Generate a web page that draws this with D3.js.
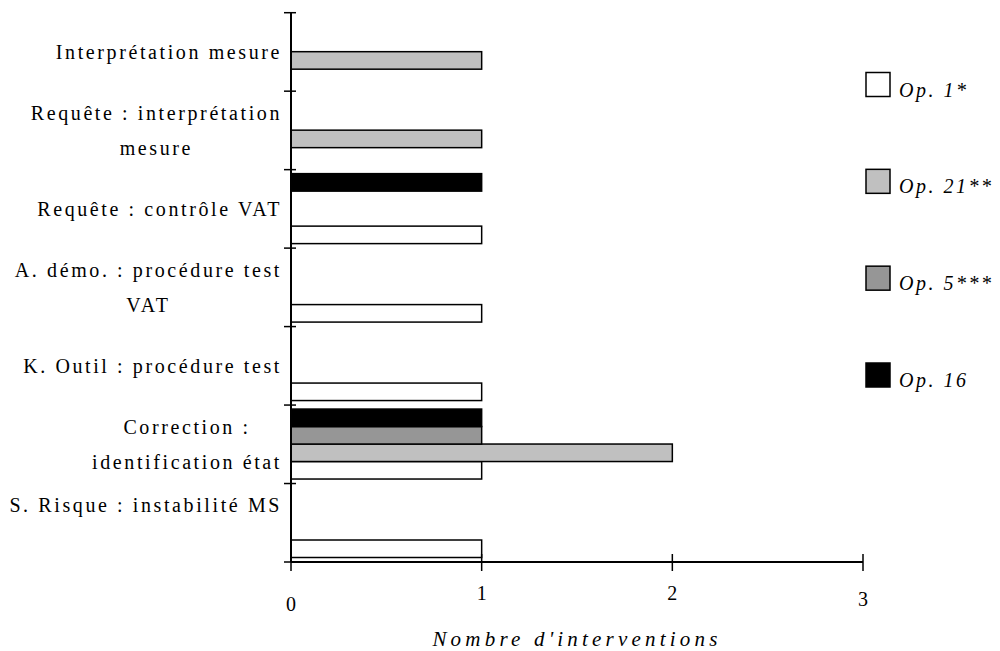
<!DOCTYPE html>
<html>
<head>
<meta charset="utf-8">
<script src="https://cdn.jsdelivr.net/npm/d3@7"></script>
<style>
  html, body { margin: 0; padding: 0; background: #fff; }
  svg { display: block; }
</style>
</head>
<body>
<svg id="chart" width="1000" height="651"></svg>
<script>
// ---- data ----
const categories = [
  "Interprétation mesure",
  "Requête : interprétation\nmesure",
  "Requête : contrôle VAT",
  "A. démo. : procédure test\nVAT",
  "K. Outil : procédure test",
  "Correction :\nidentification état",
  "S. Risque : instabilité MS\n"
];
const seriesNames = ["Op. 1*", "Op. 21**", "Op. 5***", "Op. 16"];
const op1Values  = [0, 0, 1, 1, 1, 1, 1];
const op21Values = [1, 1, 0, 0, 0, 2, 0];
const op5Values  = [0, 0, 0, 0, 0, 1, 0];
const op16Values = [0, 0, 1, 0, 0, 1, 0];
const xTickValues = [0, 1, 2, 3];
const axisTitle = "Nombre d'interventions";

const seriesValues = [op1Values, op21Values, op5Values, op16Values];
const seriesColors = ["#ffffff", "#c0c0c0", "#969696", "#000000"];

// ---- layout ----
const FONT = "'Liberation Serif', 'Times New Roman', Times, 'DejaVu Serif', serif";
const svg = d3.select("#chart").attr("font-family", FONT);
const plotLeft = 291, plotRight = 863, plotTop = 12.7, plotBottom = 562;

const x = d3.scaleLinear().domain([0, 3]).range([plotLeft, plotRight]);
const y = d3.scaleBand().domain(categories).range([plotTop, plotBottom]).paddingInner(0).paddingOuter(0);
const bw = y.bandwidth();
// series stacked top to bottom: Op.16, Op.5, Op.21, Op.1
const inner = d3.scaleBand().domain([3, 2, 1, 0]).range([4, bw - 4.5]).padding(0);

// ---- bars ----
const barData = [];
seriesValues.forEach((vals, si) => {
  vals.forEach((v, ci) => {
    if (v > 0) barData.push({ si, cat: categories[ci], v });
  });
});
svg.append("g").selectAll("rect").data(barData).join("rect")
  .attr("x", x(0))
  .attr("y", d => y(d.cat) + inner(d.si))
  .attr("width", d => x(d.v) - x(0))
  .attr("height", inner.bandwidth())
  .attr("fill", d => seriesColors[d.si])
  .attr("stroke", "#000")
  .attr("stroke-width", 1.5);

// ---- y axis ----
const gy = svg.append("g");
gy.append("line").attr("x1", plotLeft).attr("x2", plotLeft)
  .attr("y1", plotTop).attr("y2", plotBottom).attr("stroke", "#000").attr("stroke-width", 2);
const yTickPos = categories.map(c => y(c)).concat([plotBottom]);
gy.selectAll("line.tk").data(yTickPos).join("line").attr("class", "tk")
  .attr("x1", plotLeft - 7).attr("x2", plotLeft + 5)
  .attr("y1", d => d).attr("y2", d => d)
  .attr("stroke", "#000").attr("stroke-width", 1.5);

// category labels
const lineH = 35;
categories.forEach(c => {
  const lines = c.split("\n");
  const cy = y(c) + bw / 2;
  const g = svg.append("g");
  const texts = lines.map((ln, i) => g.append("text")
    .attr("y", cy - (lines.length - 1) * lineH / 2 + i * lineH + 7)
    .attr("font-family", FONT)
    .attr("font-size", 20)
    .attr("letter-spacing", "2.6px")
    .attr("text-anchor", "middle")
    .attr("fill", "#000")
    .text(ln));
  const w = d3.max(texts, t => t.node().getComputedTextLength());
  const cx = 282 - w / 2;
  texts.forEach(t => t.attr("x", cx));
});

// ---- x axis ----
const gx = svg.append("g");
gx.append("line").attr("x1", plotLeft).attr("x2", plotRight)
  .attr("y1", plotBottom).attr("y2", plotBottom).attr("stroke", "#000").attr("stroke-width", 2);
gx.selectAll("line.tk").data(xTickValues).join("line").attr("class", "tk")
  .attr("x1", d => x(d)).attr("x2", d => x(d))
  .attr("y1", plotBottom - 8).attr("y2", plotBottom + 9)
  .attr("stroke", "#000").attr("stroke-width", 1.5);
const tickDy = [0, -11, -11, -5];
gx.selectAll("text").data(xTickValues).join("text")
  .attr("x", d => x(d))
  .attr("y", (d, i) => 611 + tickDy[i])
  .attr("text-anchor", "middle")
  .attr("font-family", FONT)
  .attr("font-size", 20)
  .text(d => d);

svg.append("text")
  .attr("x", 577).attr("y", 646)
  .attr("text-anchor", "middle")
  .attr("font-family", FONT)
  .attr("font-size", 21)
  .attr("font-style", "italic")
  .attr("letter-spacing", "4.2px")
  .text(axisTitle);

// ---- legend ----
const legend = svg.append("g");
const legendY = d3.scaleLinear().domain([0, 3]).range([84.5, 375]);
seriesNames.forEach((name, i) => {
  const cy = legendY(i);
  legend.append("rect")
    .attr("x", 866).attr("y", cy - 12)
    .attr("width", 24).attr("height", 24)
    .attr("fill", seriesColors[i])
    .attr("stroke", "#000").attr("stroke-width", 1.5);
  legend.append("text")
    .attr("x", 899).attr("y", cy + 12)
    .attr("font-family", FONT)
    .attr("font-size", 20)
    .attr("font-style", "italic")
    .attr("letter-spacing", "2.5px")
    .text(name);
});
</script>
</body>
</html>
